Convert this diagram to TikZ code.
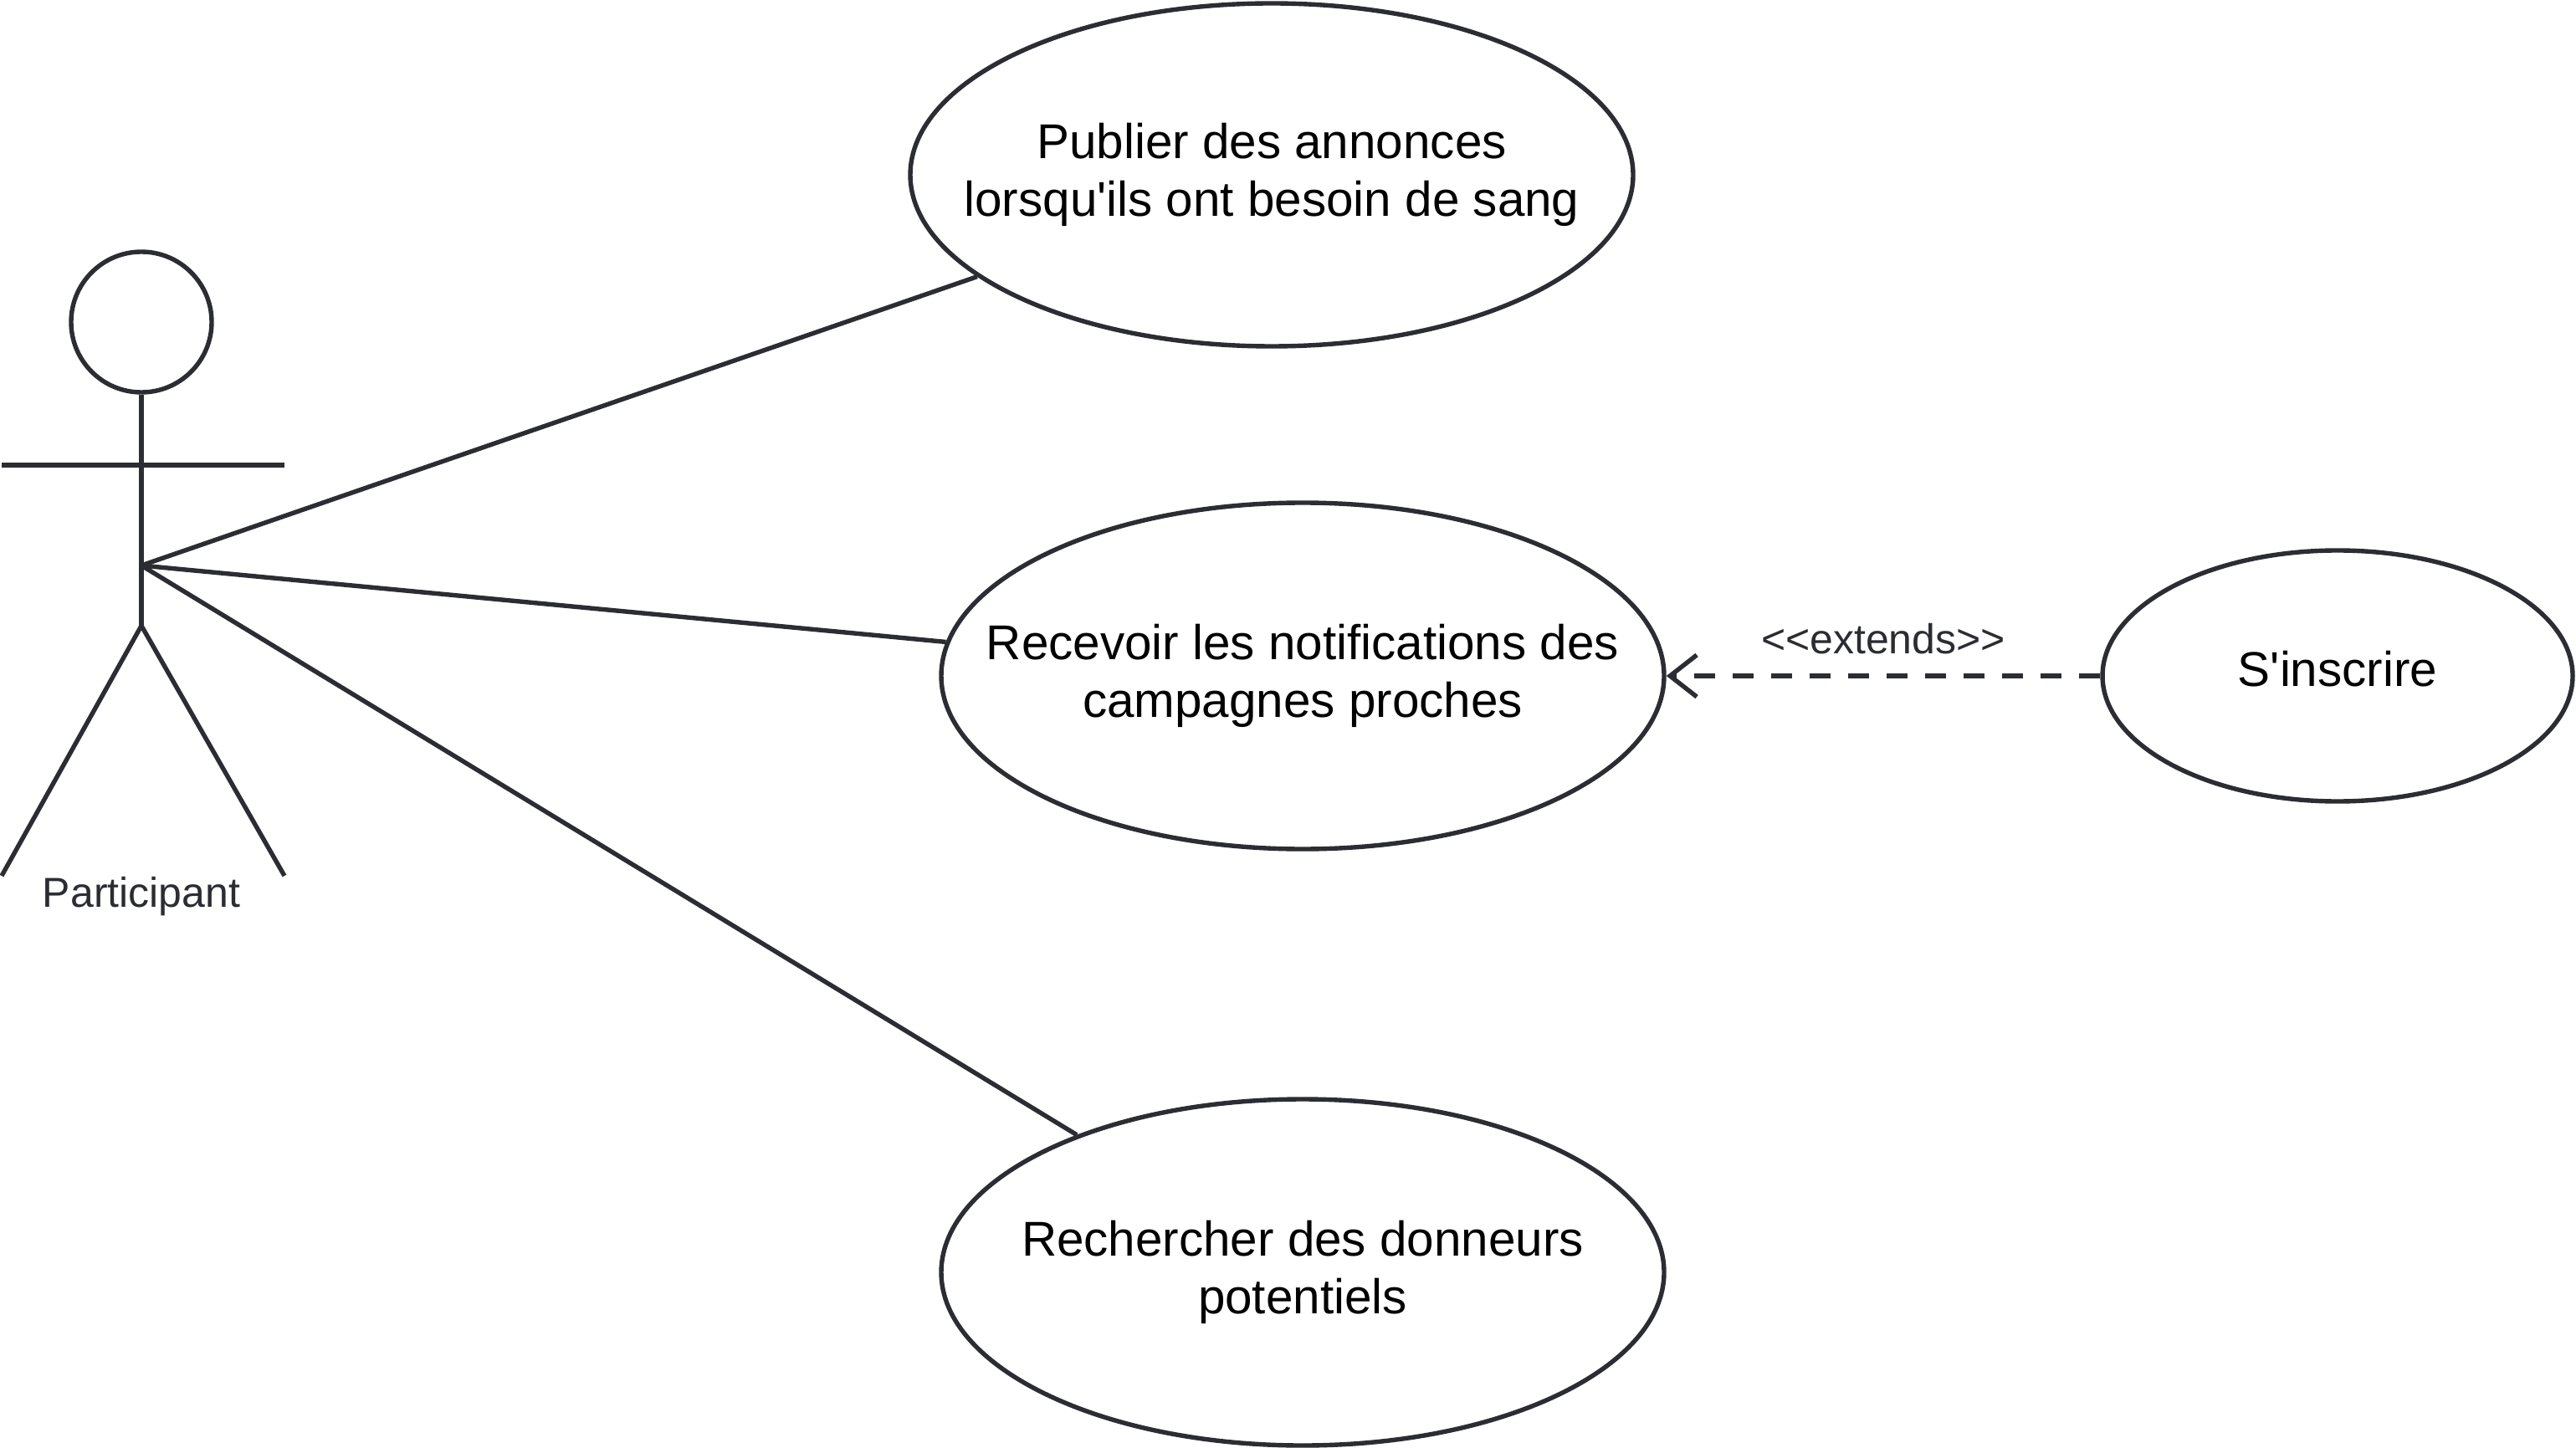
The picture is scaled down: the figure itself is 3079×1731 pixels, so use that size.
\documentclass[tikz,border=0pt]{standalone}
\usepackage{fontspec}
\setmainfont{Liberation Sans}[Ligatures=TeXOff]
\usetikzlibrary{shapes.geometric,arrows.meta}
\definecolor{ink}{HTML}{2B2D33}
\begin{document}
\begin{tikzpicture}[x=0.25pt,y=-0.25pt,
  link/.style={draw=ink, line width=1.35pt},
  usecase/.style={ellipse, draw=ink, line width=1.35pt, inner sep=0pt},
  uctext/.style={align=center, inner sep=0pt, font=\fontsize{14.6}{17.4}\selectfont, text=black},
  extlink/.style={link, dash pattern=on 6.3pt off 5.2pt,
    -{Straight Barb[length=8pt,width=12.5pt,line width=1.35pt]}},
  smalllabel/.style={font=\fontsize{12.5}{15}\selectfont, text=ink}]
\useasboundingbox (0,0) rectangle (3079,1731);
% actor
\node[circle, draw=ink, line width=1.35pt, minimum size=42pt, inner sep=0pt] (head) at (169,385) {};
\draw[link] (head.south) -- (169,748) coordinate (hip);
\draw[link] (2,556) coordinate (lh) -- (340,556) coordinate (rh);
\draw[link] (2,1047) coordinate (lf) -- (hip) -- (340,1047) coordinate (rf);
\node[smalllabel] (plabel) at (169,1072) {Participant};
\coordinate (hub) at (169,676);
% use cases
\node[usecase, minimum width=216pt, minimum height=102.5pt] (uc1) at (1520,209) {};
\node[uctext] (t1) at (uc1) {Publier des annonces\\lorsqu'ils ont besoin de sang};
\node[usecase, minimum width=216pt, minimum height=103.5pt] (uc2) at (1557,808) {};
\node[uctext] (t2) at (uc2) {Recevoir les notifications des\\campagnes proches};
\node[usecase, minimum width=216pt, minimum height=103.5pt] (uc3) at (1557,1521) {};
\node[uctext] (t3) at (uc3) {Rechercher des donneurs\\potentiels};
\node[usecase, minimum width=140.5pt, minimum height=75pt] (uc4) at (2794,808) {};
\node[uctext] (t4) at ([yshift=2pt]uc4.center) {S'inscrire};
% connectors
\draw[link] (hub) -- (uc1);
\draw[link] (hub) -- (uc2);
\draw[link] (hub) -- (uc3);
\draw[extlink] (uc4) -- (uc2) node[smalllabel, midway, yshift=11pt] (extlabel) {<<extends>>};
\end{tikzpicture}
\end{document}
